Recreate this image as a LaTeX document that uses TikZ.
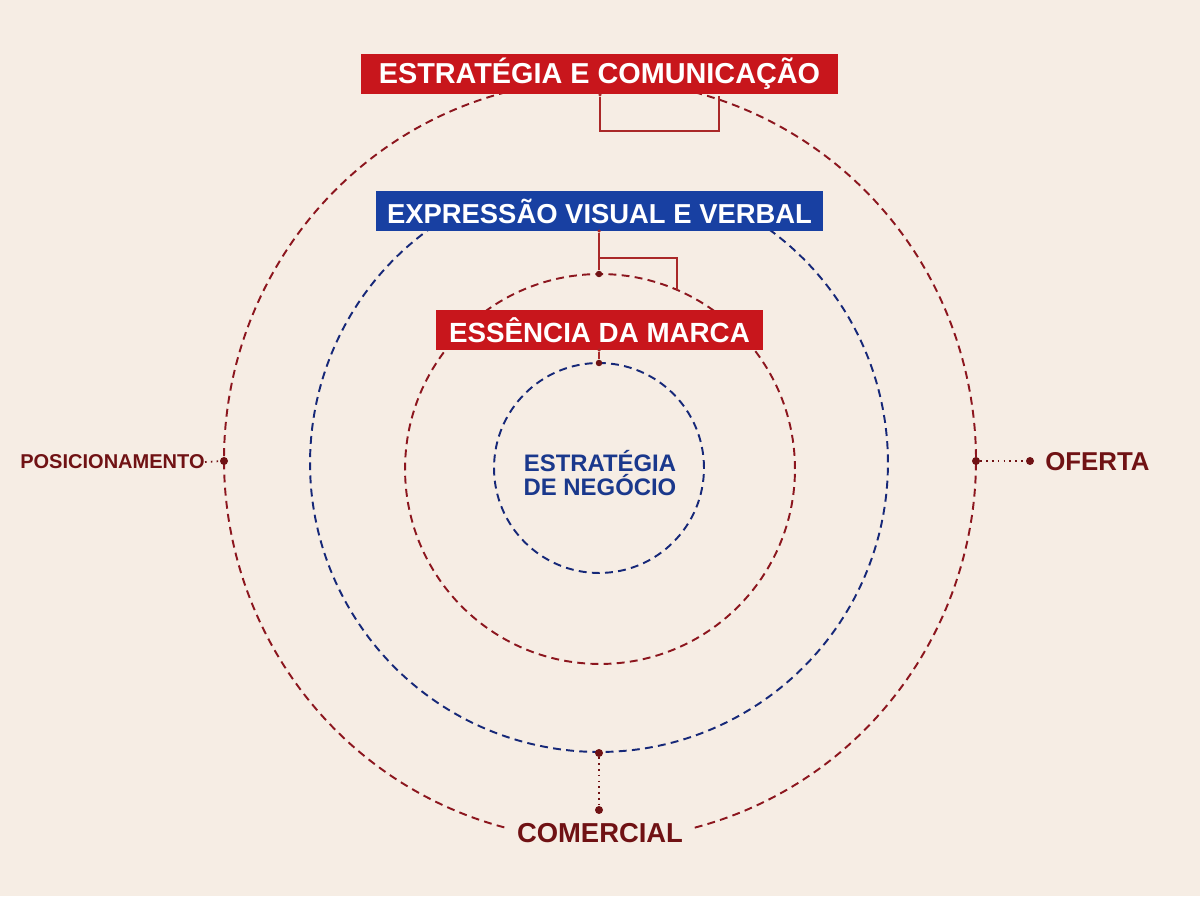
\documentclass[tikz,border=0pt]{standalone}
\usepackage{fontspec}
\setmainfont{Liberation Sans}
\usetikzlibrary{calc}
\definecolor{bg}{RGB}{246,237,228}
\definecolor{boxred}{RGB}{200,22,28}
\definecolor{boxblue}{RGB}{24,64,162}
\definecolor{ringred}{RGB}{140,22,30}
\definecolor{ringblue}{RGB}{22,40,120}
\definecolor{linkred}{RGB}{170,40,40}
\definecolor{labelred}{RGB}{112,18,20}
\definecolor{textblue}{RGB}{26,56,140}
\begin{document}
\begin{tikzpicture}[x=0.02cm,y=0.02cm,
  redring/.style={draw=ringred,line width=1.1pt,dash pattern=on 4.5pt off 3pt},
  bluering/.style={draw=ringblue,line width=1.1pt,dash pattern=on 4.5pt off 3pt},
  labelbox/.style={text=white,inner sep=0pt,minimum height=0.8cm,font=\bfseries},
  redlabel/.style={labelbox,fill=boxred},
  bluelabel/.style={labelbox,fill=boxblue},
  link/.style={draw=linkred,line width=0.8pt},
  dotlink/.style={draw=labelred,line width=1pt,dash pattern=on 0.9pt off 2.4pt},
  bigdot/.style={circle,fill=labelred,inner sep=0pt,minimum size=0.16cm},
  smalldot/.style={circle,fill=linkred,inner sep=0pt,minimum size=0.07cm},
  sidelabel/.style={text=labelred,font=\bfseries,inner sep=0pt}
]
\useasboundingbox (0,0) rectangle (1200,896);
\fill[bg] (0,0) rectangle (1200,896);

% centres of the rings
\coordinate (c1) at (600,436);
\coordinate (c2) at (599,433);
\coordinate (c3) at (600,427);
\coordinate (c4) at (599,428);

% rings
\draw[redring] (c1) ++(-75.4:7.52cm and 7.6cm) arc[start angle=-75.4,end angle=255.4,x radius=7.52cm,y radius=7.6cm];
\draw[bluering] (c2) ++(125:5.78cm) arc[start angle=125,end angle=415,radius=5.78cm];
\draw[redring] (c3) circle[radius=3.9cm];
\draw[bluering] (c4) circle[radius=2.1cm];

% title boxes
\node[redlabel,minimum width=9.54cm,font=\bfseries\fontsize{16.4}{19}\selectfont] (strat) at (599.5,822) {ESTRATÉGIA E COMUNICAÇÃO};
\node[bluelabel,minimum width=8.94cm,font=\bfseries\fontsize{15.6}{19}\selectfont] (expr) at (599.5,685) {EXPRESSÃO VISUAL E VERBAL};
\node[redlabel,minimum width=6.54cm,font=\bfseries\fontsize{15.8}{19}\selectfont] (ess) at (599.5,566) {ESSÊNCIA DA MARCA};

% centre text
\node[text=textblue,align=center,inner sep=0pt,font=\bfseries\fontsize{13.6}{13.2}\selectfont] (biz) at (600,423) {ESTRATÉGIA\\DE NEGÓCIO};

% connectors from the title boxes
\node[smalldot] (sd1) at (600,801) {};
\coordinate (t1) at (600,765);
\coordinate (t2) at (719,765);
\coordinate (t3) at (719,800);
\draw[link] (sd1) -- (t1) -- (t2) -- (t3);

\node[smalldot] (sd2) at (599,665) {};
\node[bigdot,minimum size=0.13cm] (d3top) at (599,622) {};
\draw[link] (sd2) -- (d3top);
\coordinate (b1) at (599,638);
\coordinate (b2) at (677,638);
\coordinate (b3) at (677,606);
\draw[link] (b1) -- (b2) -- (b3);

\node[smalldot] (sd3) at (599,546) {};
\node[bigdot,minimum size=0.13cm] (d4top) at (599,533) {};
\draw[link] (sd3) -- (d4top);

% side labels
\node[bigdot] (dpos) at (224,435) {};
\node[sidelabel,anchor=east,font=\bfseries\fontsize{11.4}{13}\selectfont] (pos) at (205,434) {POSICIONAMENTO};
\draw[dotlink] (pos.east) -- (dpos);

\node[bigdot] (dof1) at (976,435) {};
\node[bigdot] (dof2) at (1030,435) {};
\draw[dotlink] (dof1) -- (dof2);
\node[sidelabel,anchor=west,font=\bfseries\fontsize{14.7}{17}\selectfont] (of) at (1045,434) {OFERTA};

\node[bigdot] (dcom1) at (599,143) {};
\node[bigdot] (dcom2) at (599,86) {};
\draw[dotlink] (dcom1) -- (dcom2);
\node[sidelabel,font=\bfseries\fontsize{15.6}{18}\selectfont] (com) at (600,63) {COMERCIAL};
\end{tikzpicture}
\end{document}
